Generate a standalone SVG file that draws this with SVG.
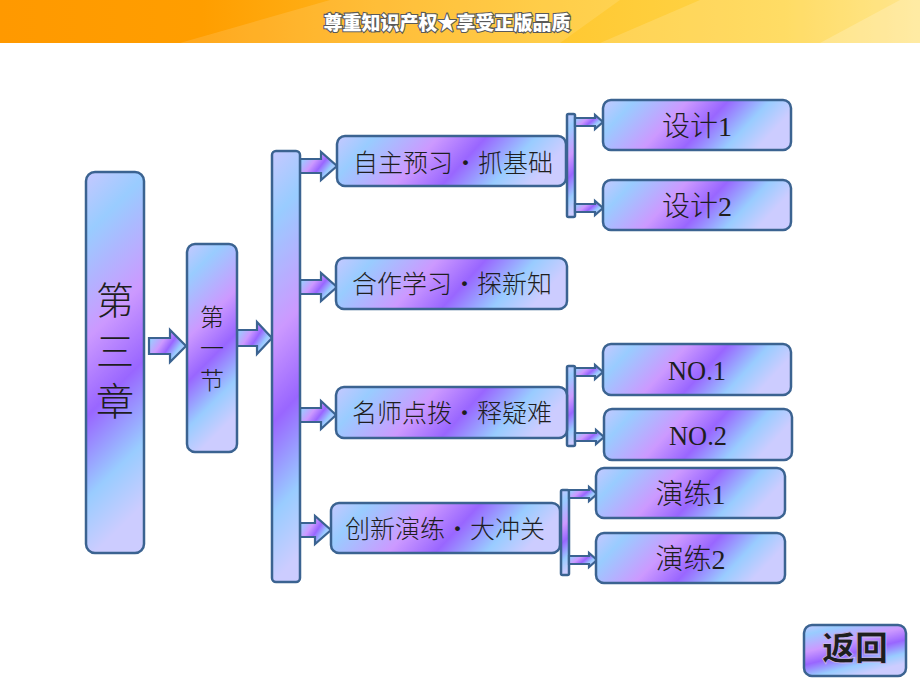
<svg xmlns="http://www.w3.org/2000/svg" xmlns:xlink="http://www.w3.org/1999/xlink" width="920" height="690" viewBox="0 0 920 690">
<defs>
<linearGradient id="gBase" x1="0" y1="0" x2="1" y2="0.22">
<stop offset="0" stop-color="#C6C8FF"/>
<stop offset="0.16" stop-color="#99CCFF"/>
<stop offset="0.43" stop-color="#CC99FF"/>
<stop offset="0.63" stop-color="#9966FF"/>
<stop offset="0.84" stop-color="#99CCFF"/>
<stop offset="1" stop-color="#CCCCFF"/>
</linearGradient>
<linearGradient id="gW" href="#gBase" xlink:href="#gBase" x1="0" y1="0" x2="1" y2="0.2"/>
<linearGradient id="gL3" href="#gBase" xlink:href="#gBase" x1="0" y1="0" x2="1" y2="0.25"/>
<linearGradient id="gBar" href="#gBase" xlink:href="#gBase" x1="0" y1="0" x2="0.07" y2="1"/>
<linearGradient id="gT1" href="#gBase" xlink:href="#gBase" x1="0" y1="0" x2="0.15" y2="1"/>
<linearGradient id="gT2" href="#gBase" xlink:href="#gBase" x1="0" y1="0" x2="0.24" y2="1"/>
<linearGradient id="gSb" href="#gBase" xlink:href="#gBase" x1="0" y1="0" x2="0.08" y2="1"/>
<linearGradient id="gA" href="#gBase" xlink:href="#gBase" x1="0" y1="0" x2="1" y2="0.6"/>
<linearGradient id="gBtn" href="#gBase" xlink:href="#gBase" x1="0" y1="0" x2="0.5" y2="1"/>
<linearGradient id="gBanner" x1="0" y1="0" x2="1" y2="0">
<stop offset="0" stop-color="#FF9900"/>
<stop offset="0.22" stop-color="#FF9E00"/>
<stop offset="0.4" stop-color="#FFB41C"/>
<stop offset="0.62" stop-color="#FFC933"/>
<stop offset="0.85" stop-color="#FFD64A"/>
<stop offset="1" stop-color="#FFE27A"/>
</linearGradient>
<style>
.box{stroke:#3B6391;stroke-width:2.5}
.arr{fill:url(#gA);stroke:#3B6391;stroke-width:2.2;stroke-linejoin:miter}
.t{font-family:"Liberation Serif","Noto Sans CJK SC",serif;fill:#1E1E1E;font-weight:300}
.m{text-anchor:middle}
.dot{font-weight:bold;font-size:30px;text-anchor:middle}
.ban{font-family:"Noto Sans CJK SC",sans-serif;font-weight:900;font-size:19px;fill:#FFFFFF;stroke:#5A5A5A;stroke-width:2.2;paint-order:stroke;text-anchor:middle}
</style>
</defs>

<g id="banner">
<rect x="0" y="0" width="920" height="43" fill="url(#gBanner)"/>
<polygon points="180,43 330,0 620,0 560,43" fill="#FFFFFF" opacity="0.12"/>
<polygon points="600,43 700,0 920,0 920,43" fill="#FFFFFF" opacity="0.15"/>
<polygon points="820,43 900,0 920,0 920,43" fill="#FFFFFF" opacity="0.2"/>
<text class="ban" x="447" y="30">尊重知识产权★享受正版品质</text>
</g>

<g id="connectors">
<path class="arr" d="M149,338 H170 V330 L186,346 L170,362 V354 H149 Z"/>
<path class="arr" d="M237,330 H257 V322 L272,338 L257,354 V346 H237 Z"/>
<path class="arr" d="M300,159 H321 V152 L337,166 L321,180 V173 H300 Z"/>
<path class="arr" d="M300,280 H321 V273 L337,287 L321,301 V294 H300 Z"/>
<path class="arr" d="M300,408 H321 V401 L336,415 L321,429 V422 H300 Z"/>
<path class="arr" d="M300,523 H315 V516 L331,530 L315,544 V537 H300 Z"/>
<rect class="box" x="567" y="114" width="8" height="103" rx="1.5" fill="url(#gSb)"/>
<path class="arr" d="M575,118 H595 V115 L603,122 L595,129 V126 H575 Z"/>
<path class="arr" d="M575,204 H595 V201 L603,208 L595,215 V212 H575 Z"/>
<rect class="box" x="567" y="366" width="8" height="80" rx="1.5" fill="url(#gSb)"/>
<path class="arr" d="M575,368 H595 V365 L603,372 L595,379 V376 H575 Z"/>
<path class="arr" d="M575,433 H596 V430 L604,437 L596,444 V441 H575 Z"/>
<rect class="box" x="561" y="490" width="8" height="85" rx="1.5" fill="url(#gSb)"/>
<path class="arr" d="M569,490 H589 V487 L597,494 L589,501 V498 H569 Z"/>
<path class="arr" d="M569,556 H589 V553 L597,560 L589,567 V564 H569 Z"/>
</g>

<g id="n-chapter">
<rect class="box" x="86" y="172" width="58" height="381" rx="9" fill="url(#gT1)"/>
<text class="t m" x="115" y="314" font-size="38">第</text>
<text class="t m" x="115" y="365" font-size="38">三</text>
<text class="t m" x="115" y="415" font-size="38">章</text>
</g>

<g id="n-section">
<rect class="box" x="187" y="244" width="50" height="208" rx="8" fill="url(#gT2)"/>
<text class="t m" x="212" y="325.5" font-size="24">第</text>
<text class="t m" x="212" y="357" font-size="24">一</text>
<text class="t m" x="212" y="388.5" font-size="24">节</text>
</g>

<g id="n-bar">
<rect class="box" x="272" y="151" width="28" height="431" rx="4" fill="url(#gBar)"/>
</g>

<g id="n-zizhu">
<rect class="box" x="337" y="136" width="229" height="50" rx="8" fill="url(#gW)"/>
<text class="t" font-size="25" y="172"><tspan x="353">自主预习</tspan><tspan class="dot" x="465.5">·</tspan><tspan x="478">抓基础</tspan></text>
</g>

<g id="n-hezuo">
<rect class="box" x="336" y="258" width="231" height="51" rx="8" fill="url(#gW)"/>
<text class="t" font-size="25" y="292.5"><tspan x="352">合作学习</tspan><tspan class="dot" x="464.5">·</tspan><tspan x="477">探新知</tspan></text>
</g>

<g id="n-mingshi">
<rect class="box" x="336" y="387" width="231" height="51" rx="8" fill="url(#gW)"/>
<text class="t" font-size="25" y="422"><tspan x="352">名师点拨</tspan><tspan class="dot" x="464.5">·</tspan><tspan x="477">释疑难</tspan></text>
</g>

<g id="n-chuangxin">
<rect class="box" x="331" y="503" width="229" height="50" rx="8" fill="url(#gW)"/>
<text class="t" font-size="25" y="537.5"><tspan x="345">创新演练</tspan><tspan class="dot" x="457.5">·</tspan><tspan x="470">大冲关</tspan></text>
</g>

<g id="n-sheji1">
<rect class="box" x="603" y="100" width="188" height="50" rx="8" fill="url(#gL3)"/>
<text class="t m" x="697" y="135.5" font-size="28">设计1</text>
</g>
<g id="n-sheji2">
<rect class="box" x="603" y="180" width="188" height="50" rx="8" fill="url(#gL3)"/>
<text class="t m" x="697" y="215.5" font-size="28">设计2</text>
</g>
<g id="n-no1">
<rect class="box" x="603" y="344" width="188" height="51" rx="8" fill="url(#gL3)"/>
<text class="t m" x="697" y="380" font-size="28" textLength="58" lengthAdjust="spacingAndGlyphs">NO.1</text>
</g>
<g id="n-no2">
<rect class="box" x="604" y="409" width="188" height="51" rx="8" fill="url(#gL3)"/>
<text class="t m" x="698" y="445" font-size="28" textLength="58" lengthAdjust="spacingAndGlyphs">NO.2</text>
</g>
<g id="n-yanlian1">
<rect class="box" x="596" y="468" width="189" height="50" rx="8" fill="url(#gL3)"/>
<text class="t m" x="690.5" y="503.5" font-size="28">演练1</text>
</g>
<g id="n-yanlian2">
<rect class="box" x="596" y="533" width="189" height="50" rx="8" fill="url(#gL3)"/>
<text class="t m" x="690.5" y="568.5" font-size="28">演练2</text>
</g>

<g id="btn-back">
<rect class="box" x="804" y="625" width="102" height="51" rx="8" fill="url(#gBtn)"/>
<text x="855" y="660" font-family="Noto Sans CJK SC, sans-serif" font-weight="900" font-size="33" fill="#1E1E1E" stroke="#C8B8F0" stroke-width="0.8" text-anchor="middle">返回</text>
</g>
</svg>
